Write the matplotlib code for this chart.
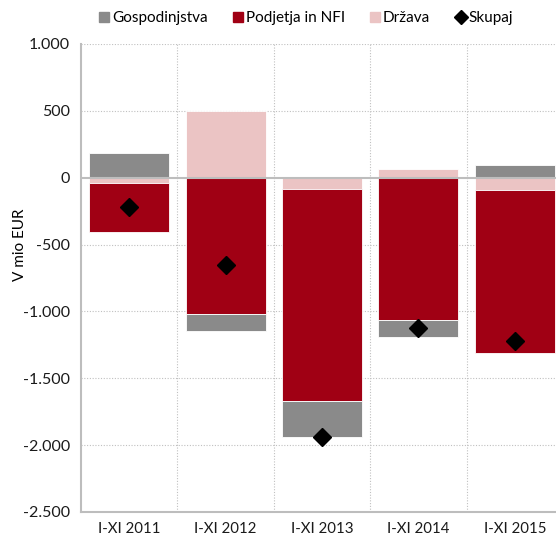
import matplotlib
matplotlib.use("Agg")
import matplotlib.pyplot as plt
from matplotlib.lines import Line2D
import numpy as np

plt.rcParams['font.family'] = ['Lato', 'DejaVu Sans']

categories = ["I-XI 2011", "I-XI 2012", "I-XI 2013", "I-XI 2014", "I-XI 2015"]
gospodinjstva = [187, -132, -272, -128, 93]
podjetja = [-371, -1017, -1583, -1064, -1219]
drzava = [-37, 499, -87, 65, -94]
skupaj = [-221, -650, -1942, -1127, -1220]
yticks = [1000, 500, 0, -500, -1000, -1500, -2000, -2500]
ytick_labels = ["1.000", "500", "0", "-500", "-1.000", "-1.500", "-2.000", "-2.500"]

c_gos = "#8a8a8a"
c_pod = "#a00014"
c_drz = "#ebc4c4"

fig = plt.figure(figsize=(5.56, 5.35), dpi=100)
ax = fig.add_axes([0.1457, 0.043, 0.867, 0.8748])

x = np.arange(len(categories))
w = 0.83
pos_base = np.zeros(len(x))
neg_base = np.zeros(len(x))
for vals, col in [(drzava, c_drz), (podjetja, c_pod), (gospodinjstva, c_gos)]:
    v = np.array(vals, dtype=float)
    bottoms = np.where(v >= 0, pos_base, neg_base)
    ax.bar(x, v, width=w, bottom=bottoms, color=col, edgecolor="white",
           linewidth=0.6, zorder=2)
    pos_base = pos_base + np.where(v >= 0, v, 0)
    neg_base = neg_base + np.where(v < 0, v, 0)

ax.plot(x, skupaj, linestyle="none", marker="D", markersize=9.5,
        color="black", zorder=4)

ax.set_xlim(-0.5, len(categories) - 0.5)
ax.set_ylim(-2500, 1000)
ax.set_yticks(yticks)
ax.set_yticklabels(ytick_labels, fontsize=11.5)
ax.set_xticks(x)
ax.set_xticklabels(categories, fontsize=10.8)
ax.tick_params(axis="both", length=0, colors="#1a1a1a")
ax.tick_params(axis="y", pad=8)
ax.tick_params(axis="x", pad=7)

# gridlines
for yv in yticks:
    if yv == 0:
        continue
    ax.axhline(yv, color="#c0c0c0", linestyle=(0, (1, 1.5)), linewidth=0.8, zorder=0)
for xv in np.arange(0.5, len(categories) - 0.5, 1):
    ax.axvline(xv, color="#c0c0c0", linestyle=(0, (1, 1.5)), linewidth=0.8, zorder=0)
ax.axhline(0, color="#bdbdbd", linewidth=1.5, zorder=3)

for s in ["top", "right"]:
    ax.spines[s].set_visible(False)
for s in ["left", "bottom"]:
    ax.spines[s].set_color("#bdbdbd")
    ax.spines[s].set_linewidth(1.5)

ax.set_ylabel("V mio EUR", fontsize=11)
ax.yaxis.set_label_coords(-0.112, 0.572)

handles = [
    Line2D([], [], linestyle="none", marker="s", markersize=7.5, color=c_gos),
    Line2D([], [], linestyle="none", marker="s", markersize=7.5, color=c_pod),
    Line2D([], [], linestyle="none", marker="s", markersize=7.5, color=c_drz),
    Line2D([], [], linestyle="none", marker="D", markersize=7, color="black"),
]
labels = ["Gospodinjstva", "Podjetja in NFI", "Država", "Skupaj"]
fig.legend(handles, labels, ncol=4, frameon=False, fontsize=11,
           loc="center left", bbox_to_anchor=(0.149, 0.966),
           handletextpad=0.0, columnspacing=1.5, handlelength=1.0)

fig.savefig("out.png", dpi=100)
